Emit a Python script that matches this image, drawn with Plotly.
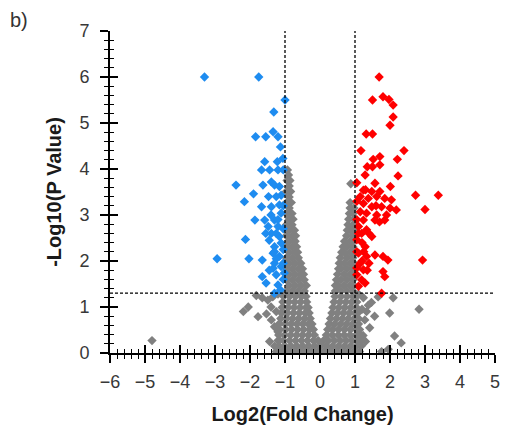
import plotly.graph_objects as go

# ---------------- data ----------------
blue_x = [-3.3, -1.75, -1.0, -1.32, -1.84, -1.55, -1.34, -1.2, -1.13, -1.06, -1.58, -1.22, -1.67, -1.44,
          -1.2, -1.05, -2.4, -1.39, -1.63, -1.3, -1.16, -1.9, -2.16, -1.47, -1.11, -1.67, -1.39, -1.16,
          -1.86, -1.58, -1.3, -1.11, -1.48, -1.2, -1.39, -1.16, -2.13, -1.3, -1.11, -1.34, -1.16, -2.94,
          -2.03, -1.65, -1.3, -1.11, -1.34, -1.02, -1.65, -1.54, -1.2, -1.3, -1.13,
          -1.05, -1.25, -1.05, -1.25, -1.05, -1.25, -1.45, -1.05, -1.45, -1.2, -1.4, -1.25, -1.05, -1.55, -1.3]
blue_y = [6.0, 6.0, 5.5, 5.24, 4.7, 4.7, 4.81, 4.7, 4.48, 4.23, 4.16, 4.16, 3.98, 3.98,
          3.98, 3.98, 3.65, 3.72, 3.65, 3.65, 3.62, 3.46, 3.29, 3.4, 3.43, 3.18, 3.18, 3.22,
          2.89, 2.89, 2.89, 3.04, 2.75, 2.75, 2.6, 2.53, 2.47, 2.31, 2.39, 2.17, 2.1, 2.05,
          2.05, 2.02, 1.95, 1.88, 1.84, 1.74, 1.66, 1.52, 1.48, 1.3, 1.37,
          2.7, 2.6, 2.25, 2.05, 3.2, 3.4, 2.45, 1.6, 1.8, 2.9, 3.0, 1.7, 1.95, 2.6, 2.2]

red_x = [1.69, 1.5, 1.8, 1.97, 2.09, 2.09, 2.0, 1.32, 1.5, 1.17, 2.4, 1.52, 1.71, 2.21, 1.35, 1.5,
         1.71, 1.29, 2.23, 1.05, 1.57, 2.01, 1.24, 1.48, 1.71, 2.73, 3.38, 1.15, 1.38, 1.62, 1.85,
         2.04, 1.24, 1.48, 1.76, 2.0, 3.0, 1.15, 1.33, 1.62, 2.18, 1.24, 1.57, 1.85, 1.1, 1.33, 1.19,
         1.48, 1.05, 1.29, 1.1, 1.33, 1.57, 1.8, 1.94, 2.93, 1.15, 1.24, 1.8, 1.05, 1.19, 1.85, 1.29, 1.76,
         1.05, 1.2, 1.05, 1.2, 1.05, 1.35, 1.1, 1.4, 1.05, 1.3, 1.4, 1.1, 1.25, 1.6, 1.9, 1.7]
red_y = [6.0, 5.5, 5.57, 5.51, 5.39, 5.13, 4.95, 4.76, 4.76, 4.4, 4.4, 4.21, 4.27, 4.21, 4.05, 4.05,
         4.09, 3.87, 3.85, 3.7, 3.69, 3.62, 3.54, 3.51, 3.51, 3.43, 3.43, 3.4, 3.36, 3.4, 3.36,
         3.33, 3.25, 3.18, 3.18, 3.15, 3.12, 3.07, 3.04, 3.0, 3.11, 2.89, 2.89, 2.89, 2.75, 2.68, 2.6,
         2.53, 2.46, 2.31, 2.17, 2.1, 2.13, 2.1, 2.02, 2.02, 1.95, 1.81, 1.77, 1.7, 1.59, 1.66, 1.52, 1.3,
         2.9, 2.4, 2.2, 2.0, 1.85, 1.8, 1.45, 2.6, 3.3, 3.55, 1.95, 2.6, 2.2, 3.2, 3.0, 2.85]

# dense grey (non-significant) cloud, listed row by row
gray_row_y = [0.03, 0.15, 0.27, 0.39, 0.51, 0.63, 0.75, 0.87, 0.99, 1.11, 1.23, 1.35, 1.47, 1.59,
              1.71, 1.83, 1.95, 2.07, 2.19, 2.31, 2.43, 2.55, 2.67, 2.79, 2.91, 3.03, 3.15, 3.27,
              3.39, 3.51, 3.63, 3.68, 3.75, 3.87, 3.98]
gray_row_x = [
    [-1.25, -1.08, -0.91, -0.74, -0.57, -0.40, -0.23, -0.06, 0.11, 0.28, 0.45, 0.62, 0.79, 0.96, 1.13],
    [-1.17, -1.00, -0.83, -0.66, -0.49, -0.32, -0.15, 0.02, 0.19, 0.36, 0.53, 0.70, 0.87, 1.04, 1.18],
    [-1.20, -1.04, -0.87, -0.70, -0.53, -0.36, -0.19, -0.05, 0.10, 0.24, 0.41, 0.58, 0.75, 0.92, 1.09, 1.16],
    [-1.18, -1.01, -0.84, -0.67, -0.50, -0.33, -0.16, 0.18, 0.35, 0.52, 0.69, 0.86, 1.03, 1.15],
    [-1.15, -0.98, -0.81, -0.64, -0.47, -0.30, -0.19, 0.22, 0.36, 0.53, 0.70, 0.87, 1.04, 1.13],
    [-1.17, -1.00, -0.83, -0.66, -0.49, -0.33, -0.23, 0.26, 0.42, 0.59, 0.76, 0.93, 1.10],
    [-1.12, -0.95, -0.78, -0.61, -0.44, -0.28, 0.30, 0.47, 0.64, 0.81, 0.98, 1.10],
    [-1.10, -0.93, -0.76, -0.59, -0.42, -0.31, 0.34, 0.50, 0.67, 0.84, 1.00, 1.08],
    [-1.08, -0.91, -0.74, -0.57, -0.40, -0.34, 0.37, 0.54, 0.71, 0.88, 1.04],
    [-1.06, -0.89, -0.72, -0.55, -0.38, 0.40, 0.57, 0.74, 0.91, 1.05],
    [-1.04, -0.87, -0.70, -0.53, -0.40, 0.43, 0.60, 0.77, 0.94, 1.04],
    [-0.96, -0.79, -0.62, -0.45, 0.44, 0.60, 0.77, 0.94],
    [-0.88, -0.71, -0.54, -0.39, 0.44, 0.52, 0.69, 0.86, 0.97],
    [-0.96, -0.79, -0.62, -0.45, 0.47, 0.60, 0.77, 0.94],
    [-0.88, -0.71, -0.54, -0.47, 0.50, 0.69, 0.86, 0.97],
    [-0.96, -0.79, -0.62, -0.50, 0.53, 0.60, 0.77, 0.94],
    [-0.88, -0.71, -0.55, 0.55, 0.69, 0.86, 0.97],
    [-0.96, -0.79, -0.62, 0.58, 0.77, 0.94],
    [-0.88, -0.71, -0.64, 0.62, 0.69, 0.86, 0.97],
    [-0.96, -0.79, -0.67, 0.66, 0.77, 0.94],
    [-0.88, -0.71, 0.70, 0.86, 0.97],
    [-0.96, -0.79, -0.70, 0.76, 0.94],
    [-0.88, -0.73, 0.78, 0.86, 0.97],
    [-0.96, -0.80, 0.80, 0.94],
    [-0.88, -0.77, 0.82, 0.97],
    [-0.96, -0.80, 0.84, 0.94],
    [-0.88, 0.86, 0.97],
    [-0.96, -0.82, 0.86],
    [-0.88],
    [-0.96, -0.84],
    [-0.88],
    [0.88],
    [-0.94, -0.86],
    [-0.90],
    [-0.93],
]
gray_out_x = [-1.82, -1.65, -1.49, -1.35, -1.2, -2.19, -2.05, -1.77, -1.53, -1.39, -1.3, -1.25, -1.2,
              -1.44, -1.3, -1.16, -4.8, -1.4,
              1.1, 1.24, 1.38, 1.47, 1.66, 2.09, 1.99, 2.83, 1.56, 1.28, 1.42, 1.23, 2.13, 2.32, 1.95,
              1.76, 1.3, 1.33, 1.2]
gray_out_y = [1.25, 1.2, 1.15, 1.22, 1.28, 0.9, 1.0, 0.79, 0.85, 0.72, 0.57, 0.9, 0.46,
              0.25, 0.15, 0.28, 0.27, 1.0,
              1.28, 1.2, 1.04, 1.1, 1.22, 1.2, 0.87, 0.95, 0.8, 0.72, 0.55, 0.38, 0.37, 0.22, 0.08,
              0.03, 0.25, 0.9, 0.95]

fc_threshold = 1.0
p_threshold = 1.3
x_range = [-6, 5]
y_range = [0, 7]

# ---------------- build figure ----------------
gray_x, gray_y = [], []
for yv, xs in zip(gray_row_y, gray_row_x):
    gray_x += xs
    gray_y += [yv] * len(xs)
gray_x += gray_out_x
gray_y += gray_out_y

mk = dict(symbol="diamond", size=7.2, line=dict(width=0))
fig = go.Figure()
fig.add_trace(go.Scatter(x=gray_x, y=gray_y, mode="markers",
                         marker=dict(color="#808080", **mk), showlegend=False))
fig.add_trace(go.Scatter(x=blue_x, y=blue_y, mode="markers",
                         marker=dict(color="#1e8cf0", **mk), showlegend=False))
fig.add_trace(go.Scatter(x=red_x, y=red_y, mode="markers",
                         marker=dict(color="#ff0000", **mk), showlegend=False))
# invisible trace to carry the overlay axes (inward half of the crossing ticks)
fig.add_trace(go.Scatter(x=[None], y=[None], xaxis="x2", yaxis="y2", mode="markers",
                         showlegend=False, hoverinfo="skip"))

dash = "3px,2px"
for xv in (-fc_threshold, fc_threshold):
    fig.add_shape(type="line", xref="x", yref="y", x0=xv, x1=xv, y0=y_range[0], y1=y_range[1],
                  line=dict(color="black", width=1.3, dash=dash))
fig.add_shape(type="line", xref="x", yref="y", x0=x_range[0], x1=x_range[1], y0=p_threshold, y1=p_threshold,
              line=dict(color="black", width=1.3, dash=dash))

font_family = "Liberation Sans, Arial, sans-serif"
tick_font = dict(family=font_family, size=18, color="#383838")
title_font = dict(family=font_family, size=20, color="#1a1a1a")

common = dict(showgrid=False, zeroline=False, showline=True, linecolor="black", linewidth=2,
              ticks="outside", ticklen=8, tickwidth=1.5, tickcolor="black", dtick=1,
              minor=dict(ticks="outside", ticklen=4, tickwidth=1.2, tickcolor="black", dtick=0.2))
fig.update_layout(
    width=506, height=434,
    margin=dict(l=110, r=6, t=31, b=81),
    plot_bgcolor="white", paper_bgcolor="white",
    xaxis=dict(range=x_range, tick0=-6, tickfont=tick_font, ticklabelstandoff=3,
               title=dict(text="<b>Log2(Fold Change)</b>", font=title_font, standoff=16),
               **common),
    yaxis=dict(range=y_range, tick0=0, tickfont=tick_font, ticklabelstandoff=7,
               title=dict(text="<b>-Log10(P Value)</b>", font=title_font, standoff=12),
               **common),
    xaxis2=dict(overlaying="x", anchor="y2", range=x_range, showgrid=False, zeroline=False,
                showline=False, showticklabels=False, ticks="inside", ticklen=8, tickwidth=1.5,
                tickcolor="black", dtick=1, tick0=-6,
                minor=dict(ticks="inside", ticklen=4, tickwidth=1.2, tickcolor="black", dtick=0.2)),
    yaxis2=dict(overlaying="y", anchor="x2", range=y_range, showgrid=False, zeroline=False,
                showline=False, showticklabels=False, ticks="inside", ticklen=8, tickwidth=1.5,
                tickcolor="black", dtick=1, tick0=0,
                minor=dict(ticks="inside", ticklen=4, tickwidth=1.2, tickcolor="black", dtick=0.2)),
    annotations=[dict(text="b)", xref="paper", yref="paper", x=-0.264, y=1.075,
                      xanchor="left", yanchor="top", showarrow=False,
                      font=dict(family=font_family, size=20, color="#333333"))],
)

fig.write_html("out.html")
